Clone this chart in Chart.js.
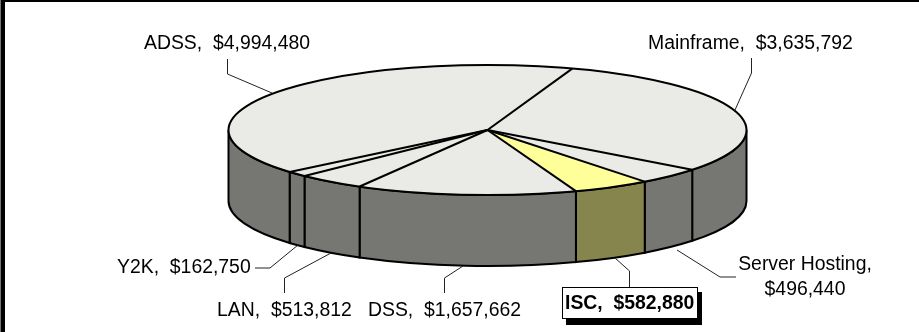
<!DOCTYPE html>
<html>
<head>
<meta charset="utf-8">
<style>
  html, body { margin: 0; padding: 0; background: #fff; }
  #wrap { position: relative; width: 919px; height: 332px; }
</style>
<script src="https://cdn.jsdelivr.net/npm/chart.js@4/dist/chart.umd.js"></script>
</head>
<body>
<div id="wrap"><canvas id="budgetPie" width="919" height="332"></canvas></div>
<script>
// budget by program, clockwise from the ADSS / Mainframe split
const categories = ["Mainframe", "Server Hosting", "ISC", "DSS", "LAN", "Y2K", "ADSS"];
const amounts = [3635792, 496440, 582880, 1657662, 513812, 162750, 4994480];
const topColors = ["#eaebe6", "#eaebe6", "#ffff99", "#eaebe6", "#eaebe6", "#eaebe6", "#eaebe6"];
const wallColors = ["#767772", "#767772", "#85854d", "#767772", "#767772", "#767772", "#767772"];

const money = (v) => "$" + v.toLocaleString("en-US");

// disc placement on the canvas
const disc = { cx: 487.5, cy: 130, rx: 259, ry: 65, depth: 71 };

// label text anchors and leader lines
const labelLayout = {
  Mainframe: { x: 648, y: 43.5, leader: [[751.5, 58], [751.5, 73], [735, 110]] },
  "Server Hosting": { x: 805, y: 264.5, wrap: true, leader: [[736, 277], [720, 277], [677, 250]] },
  ISC: { x: 565, y: 304, bold: true, leader: [[629.5, 287], [629.5, 271], [615, 258]] },
  DSS: { x: 368, y: 310.5, leader: [[444.5, 293], [444.5, 278], [463, 266]] },
  LAN: { x: 217, y: 310.5, leader: [[284.5, 293], [284.5, 278], [331, 253]] },
  Y2K: { x: 117, y: 268, leader: [[255, 268], [270, 268], [298, 245]] },
  ADSS: { x: 144, y: 43.5, leader: [[227.5, 59], [227.5, 74], [272, 93]] },
};

const tracePath = (ctx, pts) => {
  ctx.beginPath();
  pts.forEach((p, i) => (i ? ctx.lineTo(p[0], p[1]) : ctx.moveTo(p[0], p[1])));
  ctx.stroke();
};

// squashes the flat pie into an ellipse and adds the wall, outlines and labels
const discPlugin = {
  id: "disc3d",
  beforeDatasetsDraw(chart) {
    const ctx = chart.ctx;
    const arcs = chart.getDatasetMeta(0).data;
    const { cx, cy, rx, ry, depth } = disc;
    const TAU = Math.PI * 2;

    // only the part of each slice between 0 and PI faces the viewer
    ctx.save();
    ctx.lineWidth = 2;
    ctx.strokeStyle = "#000";
    arcs.forEach((arc, i) => {
      for (const shift of [0, -TAU]) {
        const a0 = Math.max(arc.startAngle + shift, 0);
        const a1 = Math.min(arc.endAngle + shift, Math.PI);
        if (a1 <= a0) continue;
        ctx.beginPath();
        ctx.ellipse(cx, cy, rx, ry, 0, a0, a1);
        ctx.ellipse(cx, cy + depth, rx, ry, 0, a1, a0, true);
        ctx.closePath();
        ctx.fillStyle = wallColors[i];
        ctx.fill();
        ctx.stroke();
      }
    });
    ctx.restore();

    const first = arcs[0];
    const sx = rx / first.outerRadius;
    const sy = ry / first.outerRadius;
    ctx.save();
    ctx.translate(cx, cy);
    ctx.scale(sx, sy);
    ctx.translate(-first.x, -first.y);
  },
  afterDatasetsDraw(chart) {
    const ctx = chart.ctx;
    const arcs = chart.getDatasetMeta(0).data;
    const { cx, cy, rx, ry } = disc;
    ctx.restore();

    // slice outlines, stroked without the squash so the pen stays even
    ctx.save();
    ctx.lineWidth = 2;
    ctx.strokeStyle = "#000";
    ctx.lineJoin = "round";
    ctx.beginPath();
    ctx.ellipse(cx, cy, rx, ry, 0, 0, Math.PI * 2);
    ctx.stroke();
    arcs.forEach((arc) => {
      ctx.beginPath();
      ctx.moveTo(cx, cy);
      ctx.lineTo(cx + rx * Math.cos(arc.startAngle), cy + ry * Math.sin(arc.startAngle));
      ctx.stroke();
    });
    ctx.restore();

    // leader lines
    ctx.save();
    ctx.lineWidth = 1;
    ctx.strokeStyle = "#222";
    categories.forEach((name) => tracePath(ctx, labelLayout[name].leader));
    ctx.restore();

    // data labels
    ctx.save();
    ctx.fillStyle = "#000";
    ctx.textBaseline = "middle";
    categories.forEach((name, i) => {
      const spot = labelLayout[name];
      const amount = money(amounts[i]);
      if (spot.bold) {
        ctx.fillStyle = "#000";
        ctx.fillRect(566, 292, 136, 33);
        ctx.fillStyle = "#fff";
        ctx.fillRect(562, 287, 136, 32);
        ctx.strokeStyle = "#000";
        ctx.lineWidth = 1;
        ctx.strokeRect(562.5, 287.5, 135, 31);
        ctx.fillStyle = "#000";
      }
      ctx.font = (spot.bold ? "bold " : "") + "19.4px 'Liberation Sans', Arial, sans-serif";
      if (spot.wrap) {
        ctx.textAlign = "center";
        ctx.fillText(name + ",", spot.x, spot.y);
        ctx.fillText(amount, spot.x, spot.y + 25);
      } else {
        ctx.textAlign = "left";
        ctx.fillText(name + ",\u00a0\u00a0" + amount, spot.x, spot.y);
      }
    });
    ctx.restore();
  },
};

// page frame: heavy rule down the left, thin rule along the top
const framePlugin = {
  id: "frame",
  beforeDraw(chart) {
    const ctx = chart.ctx;
    ctx.save();
    ctx.fillStyle = "#fff";
    ctx.fillRect(0, 0, 919, 332);
    ctx.fillStyle = "#000";
    ctx.fillRect(0, 0, 919, 2);
    ctx.fillRect(1, 0, 4, 332);
    ctx.fillStyle = "#777";
    ctx.fillRect(0, 0, 1, 332);
    ctx.restore();
  },
};

new Chart(document.getElementById("budgetPie"), {
  type: "pie",
  data: {
    labels: categories,
    datasets: [
      {
        data: amounts,
        backgroundColor: topColors,
        borderWidth: 0,
        clip: false,
      },
    ],
  },
  options: {
    responsive: false,
    animation: false,
    rotation: 19.1,
    plugins: {
      legend: { display: false },
      tooltip: { enabled: false },
    },
  },
  plugins: [framePlugin, discPlugin],
});
</script>
</body>
</html>
